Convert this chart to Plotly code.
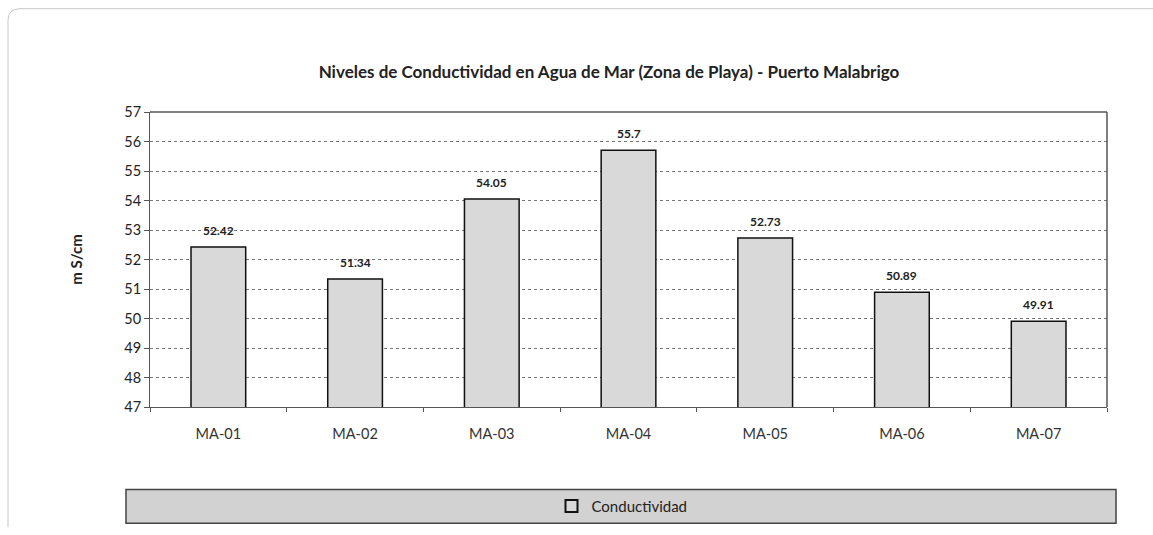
import plotly.graph_objects as go

categories = ["MA-01", "MA-02", "MA-03", "MA-04", "MA-05", "MA-06", "MA-07"]
values = [52.42, 51.34, 54.05, 55.7, 52.73, 50.89, 49.91]
y_ticks = [47, 48, 49, 50, 51, 52, 53, 54, 55, 56, 57]
title_text = "Niveles de Conductividad en Agua de Mar (Zona de Playa) - Puerto Malabrigo"
y_title = "m S/cm"
series_name = "Conductividad"

W, H = 1153, 535
L, R, T, B = 150, 1107, 112, 409

def px(xp):
    return (xp - L) / (R - L)

def py(yp):
    return (B - yp) / (B - T)

FONT = "Lato, 'Open Sans', sans-serif"

fig = go.Figure()
fig.add_trace(go.Bar(
    x=categories, y=values, name=series_name,
    marker=dict(color="#d9d9d9", line=dict(color="#111111", width=1.5)),
    width=0.4,
))

annotations = [
    dict(x=c, y=v, xref="x", yref="y", text=f"<b>{v:g}</b>", showarrow=False,
         yanchor="bottom", yshift=7, font=dict(size=12, color="#222222", family=FONT))
    for c, v in zip(categories, values)
]

shapes = [
    # outer frame
    dict(type="path", xref="paper", yref="paper",
         path=f"M {px(8)},{py(530)} L {px(8)},{py(20)} Q {px(8)},{py(8)} {px(20)},{py(8)} L {px(1160)},{py(8)}",
         line=dict(color="#c8c8c8", width=1)),
    # plot border top & right
    dict(type="line", xref="paper", yref="paper", x0=0, x1=1, y0=1, y1=1,
         line=dict(color="#555555", width=1.5)),
    dict(type="line", xref="paper", yref="paper", x0=1, x1=1, y0=0, y1=1,
         line=dict(color="#555555", width=1.5)),
    # legend box
    dict(type="rect", xref="paper", yref="paper",
         x0=px(126), x1=px(1116), y0=py(526), y1=py(492),
         fillcolor="#d2d2d2", line=dict(color="#444444", width=1.5), layer="below"),
]

fig.update_layout(
    width=W, height=H,
    margin=dict(l=L, r=W - R, t=T, b=H - B),
    paper_bgcolor="white", plot_bgcolor="white",
    font=dict(family=FONT, color="#222222"),
    title=dict(text="<b>" + title_text + "</b>", xref="container", x=609 / W, xanchor="center",
               y=1 - 72 / H, yanchor="middle", font=dict(size=17, family=FONT, color="#222222")),
    xaxis=dict(showgrid=False, showline=True, linecolor="#555555", linewidth=1,
               ticks="outside", tickcolor="#555555", ticklen=4, ticklabelstandoff=14,
               tickson="boundaries", tickfont=dict(size=14.5, color="#333333", family=FONT)),
    yaxis=dict(range=[47, 57], tickvals=y_ticks, showgrid=True, gridcolor="#777777",
               griddash="dot", gridwidth=1, showline=True, linecolor="#555555",
               ticks="outside", tickcolor="#555555", ticklen=5,
               tickfont=dict(size=14.5, color="#222222", family=FONT),
               title=dict(text="<b>" + y_title + "</b>", font=dict(size=15, family=FONT), standoff=38),
               zeroline=False),
    bargap=0.6,
    showlegend=True,
    legend=dict(x=px(622), y=py(509), xanchor="center", yanchor="middle",
                bgcolor="rgba(0,0,0,0)", borderwidth=0, orientation="h",
                font=dict(size=15, family=FONT, color="#222222"),
                itemwidth=30, itemsizing="constant"),
    annotations=annotations,
    shapes=shapes,
)

fig.write_html("out.html", config={"displayModeBar": False},
               post_script="document.body.style.margin='0';document.body.style.overflow='hidden';")
